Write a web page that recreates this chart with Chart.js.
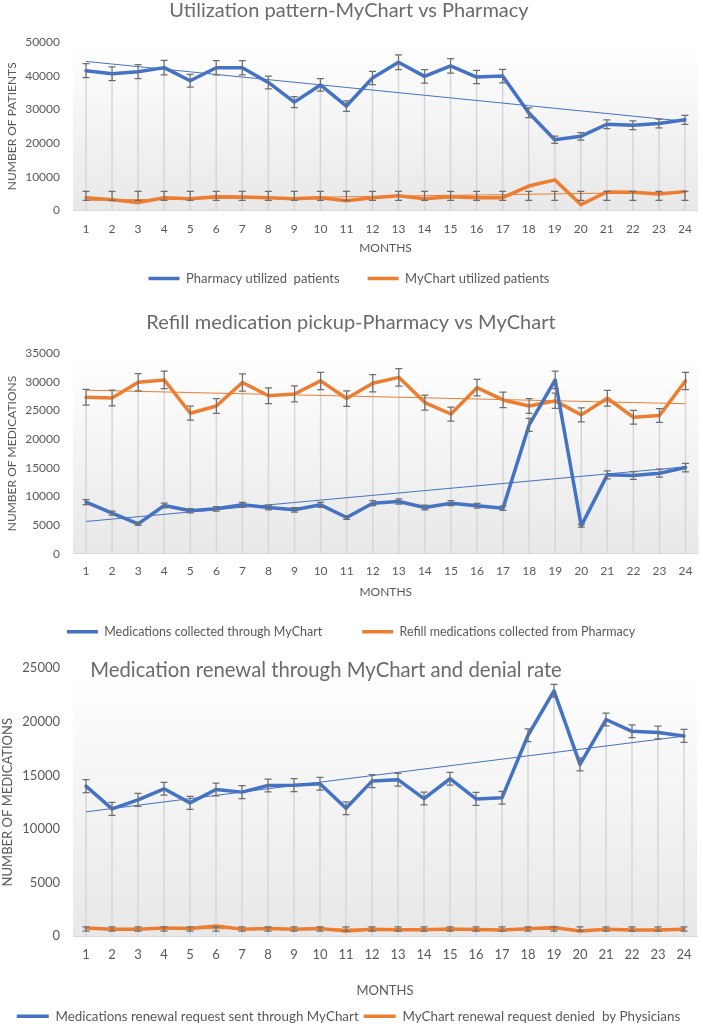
<!DOCTYPE html>
<html>
<head>
<meta charset="utf-8">
<script src="https://cdn.jsdelivr.net/npm/chart.js@4.4.1/dist/chart.umd.min.js"></script>
<style>
  html, body { margin: 0; padding: 0; background: #fff; overflow: hidden; }
  .panel { position: absolute; left: 0; width: 703px; }
</style>
</head>
<body>
<div class="panel" style="top:0;height:295px"><canvas id="utilChart"></canvas></div>
<div class="panel" style="top:300px;height:348px"><canvas id="refillChart"></canvas></div>
<div class="panel" style="top:640px;height:393px"><canvas id="renewalChart"></canvas></div>
<script>
// months 1..24
const months = ['1','2','3','4','5','6','7','8','9','10','11','12','13','14','15','16','17','18','19','20','21','22','23','24'];

// chart 1 - utilization
const pharmacyPatients = [41500, 40600, 41200, 42400, 38500, 42350, 42350, 38000, 32150, 37250, 31000, 39300,
                          44000, 39800, 42900, 39600, 39900, 29000, 21000, 22000, 25600, 25300, 25800, 26900];
const myChartPatients = [3800, 3200, 2350, 3800, 3500, 4100, 4000, 3800, 3500, 3800, 2900, 3800,
                         4400, 3500, 4100, 3800, 3800, 7250, 9100, 1750, 5500, 5400, 4900, 5600];
const myChartPatientsBand = [3000, 5700];   // error bar low / high (std dev style)

// chart 2 - refill pickup
const myChartMeds = [9020, 7100, 5230, 8430, 7500, 7850, 8550, 8080, 7680, 8550, 6330, 8840,
                     9130, 8080, 8840, 8370, 7970, 22500, 30350, 4880, 13780, 13660, 14070, 15050];
const pharmacyRefills = [27330, 27200, 29950, 30350, 24540, 25800, 29900, 27600, 27900, 30180, 27100, 29770,
                         30800, 26400, 24400, 29000, 26860, 25800, 26700, 24250, 27150, 23840, 24130, 30180];

// chart 3 - renewal + denial
const renewalRequests = [14000, 11880, 12720, 13750, 12440, 13690, 13440, 14060, 14090, 14220, 11940, 14470,
                         14600, 12840, 14690, 12810, 12910, 18750, 22900, 16030, 20220, 19120, 19000, 18690];
const renewalDenied = [750, 650, 650, 750, 700, 940, 650, 700, 650, 700, 470, 650,
                       600, 600, 670, 620, 560, 680, 800, 470, 650, 560, 560, 650];
const renewalErr = 600;                 // +/- fixed
const deniedBand = [470, 870];

const errPct = 5;   // percentage error bars

const BLUE = '#4472C4', ORANGE = '#ED7D31';
const TEXT = '#595959';
const FONT = 'Lato';

// least squares trend, like the Excel linear trendline
function linearTrend(values) {
    const n = values.length;
    let sx = 0, sy = 0, sxy = 0, sxx = 0;
    values.forEach((v, i) => { const x = i + 1; sx += x; sy += v; sxy += x * v; sxx += x * x; });
    const b = (n * sxy - sx * sy) / (n * sxx - sx * sx);
    const a = (sy - b * sx) / n;
    return values.map((v, i) => a + b * (i + 1));
}

function errRange(ds, i) {
    const v = ds.data[i];
    const e = ds.errorBars;
    if (!e) return null;
    if (e.pct) return [v * (1 - e.pct / 100), v * (1 + e.pct / 100)];
    if (e.fixed) return [v - e.fixed, v + e.fixed];
    if (e.band) return e.band;
    return null;
}

// gradient plot area, drop lines, error bars, title
const excelDecor = {
    id: 'excelDecor',
    beforeDraw(chart) {
        const { ctx, chartArea: a } = chart;
        const g = ctx.createLinearGradient(0, a.top, 0, a.bottom);
        g.addColorStop(0, '#ffffff');
        g.addColorStop(1, '#e8e8e8');
        ctx.save();
        ctx.fillStyle = g;
        ctx.fillRect(a.left, a.top, a.width, a.height);
        ctx.restore();
    },
    beforeDatasetsDraw(chart) {
        const { ctx, chartArea: a, scales: { x, y } } = chart;
        const series = chart.data.datasets.filter(d => !d.isTrend);
        ctx.save();
        ctx.strokeStyle = '#d6d6d6';
        ctx.lineWidth = 1.5;
        chart.data.labels.forEach((_, i) => {
            const top = Math.max(...series.map(d => d.data[i]));
            const px = x.getPixelForValue(i);
            ctx.beginPath();
            ctx.moveTo(px, y.getPixelForValue(top));
            ctx.lineTo(px, a.bottom);
            ctx.stroke();
        });
        ctx.restore();
    },
    afterDatasetsDraw(chart) {
        const { ctx, scales: { x, y } } = chart;
        ctx.save();
        ctx.strokeStyle = '#6e6e6e';
        ctx.lineWidth = 1.25;
        chart.data.datasets.forEach(ds => {
            if (!ds.errorBars) return;
            ds.data.forEach((v, i) => {
                const r = errRange(ds, i);
                const px = x.getPixelForValue(i);
                const y0 = y.getPixelForValue(r[0]), y1 = y.getPixelForValue(r[1]);
                ctx.beginPath();
                ctx.moveTo(px, y0); ctx.lineTo(px, y1);
                ctx.moveTo(px - 3.5, y0); ctx.lineTo(px + 3.5, y0);
                ctx.moveTo(px - 3.5, y1); ctx.lineTo(px + 3.5, y1);
                ctx.stroke();
            });
        });
        ctx.restore();
    },
    afterDraw(chart, args, opts) {
        if (!opts.text) return;
        const { ctx } = chart;
        ctx.save();
        ctx.font = opts.size + 'px ' + FONT;
        ctx.fillStyle = '#6a6a6a';
        ctx.textAlign = 'center';
        ctx.textBaseline = 'middle';
        ctx.fillText(opts.text, opts.x, opts.y);
        ctx.restore();
    }
};

function seriesDs(label, data, color, errorBars) {
    return {
        label, data, errorBars,
        borderColor: color, backgroundColor: color, borderWidth: 3.5,
        pointRadius: 0, pointHoverRadius: 0, pointStyle: 'line',
        borderJoinStyle: 'round', borderCapStyle: 'round', tension: 0
    };
}
function trendDs(data, color) {
    return {
        label: 'trend', isTrend: true, data: linearTrend(data),
        borderColor: color, borderWidth: 1, pointRadius: 0, tension: 0
    };
}

function makeChart(id, cfg) {
    const fs = cfg.fontSize;
    return new Chart(document.getElementById(id), {
        type: 'line',
        data: { labels: months, datasets: cfg.datasets },
        options: {
            responsive: true, maintainAspectRatio: false, animation: false,
            layout: { padding: cfg.padding },
            plugins: {
                legend: {
                    position: 'bottom',
                    labels: {
                        usePointStyle: true, pointStyleWidth: cfg.legendBox, padding: cfg.legendPad,
                        color: TEXT, font: { family: FONT, size: cfg.legendSize },
                        filter: item => item.text !== 'trend'
                    }
                },
                tooltip: { enabled: false },
                excelDecor: cfg.title
            },
            scales: {
                x: {
                    offset: true,
                    grid: { display: false, drawTicks: false },
                    border: { color: '#d9d9d9', width: 1 },
                    ticks: { color: TEXT, padding: cfg.xTickPad, font: { family: FONT, size: fs }, maxRotation: 0, autoSkip: false },
                    title: { display: true, text: 'MONTHS', color: TEXT, font: { family: FONT, size: fs }, padding: { top: 0, bottom: cfg.xTitlePad } },
                    afterFit(s) { s.height = cfg.xHeight; }
                },
                y: {
                    min: 0, max: cfg.yMax,
                    grid: { display: false, drawTicks: false },
                    border: { display: false },
                    ticks: { stepSize: cfg.yStep, color: TEXT, padding: 13, font: { family: FONT, size: fs }, callback: v => String(v) },
                    title: { display: true, text: cfg.yTitle, color: TEXT, font: { family: FONT, size: fs }, padding: { top: cfg.yTitlePad, bottom: 0 } },
                    afterFit(s) { s.width = 73; }
                }
            }
        },
        plugins: [excelDecor]
    });
}

makeChart('utilChart', {
    fontSize: 12, legendSize: 13, legendBox: 31, legendPad: 28,
    padding: { top: 42, right: 5, left: 0, bottom: 0 },
    xTickPad: 11, xHeight: 33.5, xTitlePad: -11.5,
    yMax: 50000, yStep: 10000, yTitle: 'NUMBER OF PATIENTS', yTitlePad: 5,
    title: { text: 'Utilization pattern-MyChart vs Pharmacy', x: 349, y: 11, size: 20 },
    datasets: [
        seriesDs('Pharmacy utilized  patients', pharmacyPatients, BLUE, { pct: errPct }),
        seriesDs('MyChart utilized patients', myChartPatients, ORANGE, { band: myChartPatientsBand }),
        trendDs(pharmacyPatients, BLUE),
        trendDs(myChartPatients, ORANGE)
    ]
});

makeChart('refillChart', {
    fontSize: 12, legendSize: 12.5, legendBox: 31, legendPad: 40,
    padding: { top: 53.3, right: 1, left: 0, bottom: 0 },
    xTickPad: 10.5, xHeight: 31.7, xTitlePad: -14.2,
    yMax: 35000, yStep: 5000, yTitle: 'NUMBER OF MEDICATIONS', yTitlePad: 5,
    title: { text: 'Refill medication pickup-Pharmacy vs MyChart', x: 351, y: 23, size: 20 },
    datasets: [
        seriesDs('Medications collected through MyChart', myChartMeds, BLUE, { pct: errPct }),
        seriesDs('Refill medications collected from Pharmacy', pharmacyRefills, ORANGE, { pct: errPct }),
        trendDs(myChartMeds, BLUE),
        trendDs(pharmacyRefills, ORANGE)
    ]
});

makeChart('renewalChart', {
    fontSize: 13, legendSize: 13.4, legendBox: 32, legendPad: 5,
    padding: { top: 28.3, right: 6, left: 0, bottom: 0 },
    xTickPad: 11.2, xHeight: 68.5, xTitlePad: 5.7,
    yMax: 25000, yStep: 5000, yTitle: 'NUMBER OF MEDICATIONS', yTitlePad: 0,
    title: { text: 'Medication renewal through MyChart and denial rate', x: 326, y: 30, size: 20.3 },
    datasets: [
        seriesDs('Medications renewal request sent through MyChart', renewalRequests, BLUE, { fixed: renewalErr }),
        seriesDs('MyChart renewal request denied  by Physicians', renewalDenied, ORANGE, { band: deniedBand }),
        trendDs(renewalRequests, BLUE),
        trendDs(renewalDenied, ORANGE)
    ]
});
</script>
</body>
</html>
